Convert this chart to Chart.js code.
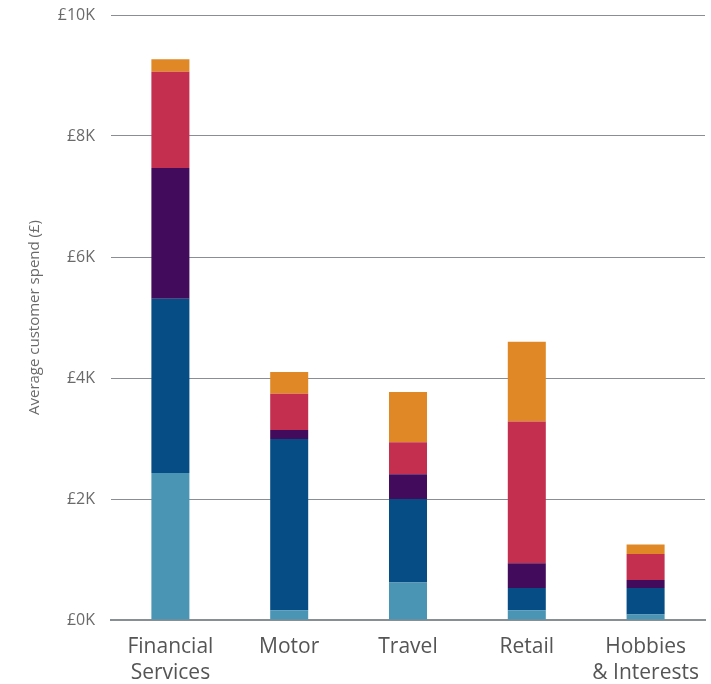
<!DOCTYPE html>
<html>
<head>
<meta charset="utf-8">
<script src="https://cdn.jsdelivr.net/npm/chart.js@4/dist/chart.umd.min.js"></script>
<style>
  html, body { margin: 0; padding: 0; background: #fff; }
  #wrap { width: 711px; height: 684px; position: relative; }
</style>
</head>
<body>
<div id="wrap"><canvas id="spendChart"></canvas></div>
<script>
const categories = [["Financial", "Services"], "Motor", "Travel", "Retail", ["Hobbies", "& Interests"]];

// average spend per segment, in £
const segment1 = [2430, 160, 620, 160, 90];
const segment2 = [2880, 2830, 1380, 370, 440];
const segment3 = [2160, 150, 410, 410, 130];
const segment4 = [1590, 600, 530, 2340, 430];
const segment5 = [210, 360, 830, 1320, 160];

const yTicks = [0, 2000, 4000, 6000, 8000, 10000];

const colours = ["#4a94b4", "#074d85", "#420b5c", "#c42f4f", "#e08826"];
const series = [segment1, segment2, segment3, segment4, segment5];

const gridGrey = "#878f94";
const tickGrey = "#6a6a6a";

const ctx = document.getElementById("spendChart").getContext("2d");

new Chart(ctx, {
  type: "bar",
  data: {
    labels: categories,
    datasets: series.map((vals, i) => ({
      label: "Segment " + (i + 1),
      data: vals,
      backgroundColor: colours[i],
      borderWidth: 0,
      barPercentage: 0.32,
      categoryPercentage: 1.0
    }))
  },
  options: {
    responsive: true,
    maintainAspectRatio: false,
    animation: false,
    layout: { padding: { top: 15, right: 6, left: 0, bottom: 0 } },
    plugins: {
      legend: { display: false },
      tooltip: { enabled: false }
    },
    scales: {
      x: {
        stacked: true,
        z: 1,
        afterFit: (scale) => {
          scale.height = 64;
          scale.paddingLeft = 0;
          scale.paddingRight = 0;
        },
        grid: { display: false, drawTicks: false },
        border: { display: true, color: gridGrey, width: 2 },
        ticks: {
          color: "#555",
          padding: 14,
          maxRotation: 0,
          autoSkip: false,
          font: { family: "'Open Sans', sans-serif", size: 21, lineHeight: 1.25 }
        }
      },
      y: {
        stacked: true,
        min: 0,
        max: 10000,
        afterFit: (scale) => {
          scale.width = 111;
          scale.paddingTop = 0;
          scale.paddingBottom = 0;
        },
        afterBuildTicks: (scale) => { scale.ticks = yTicks.map(v => ({ value: v })); },
        grid: {
          color: (c) => c.tick && c.tick.value === 0 ? "rgba(0,0,0,0)" : gridGrey,
          lineWidth: 1,
          drawTicks: false
        },
        border: { display: false },
        ticks: {
          color: tickGrey,
          padding: 16,
          font: { family: "'Open Sans', sans-serif", size: 16 },
          callback: (v) => "£" + (v / 1000) + "K"
        },
        title: {
          display: true,
          text: "Average customer spend (£)",
          color: tickGrey,
          padding: { top: 26, bottom: 0 },
          font: { family: "'Open Sans', sans-serif", size: 15 }
        }
      }
    }
  }
});
</script>
</body>
</html>
